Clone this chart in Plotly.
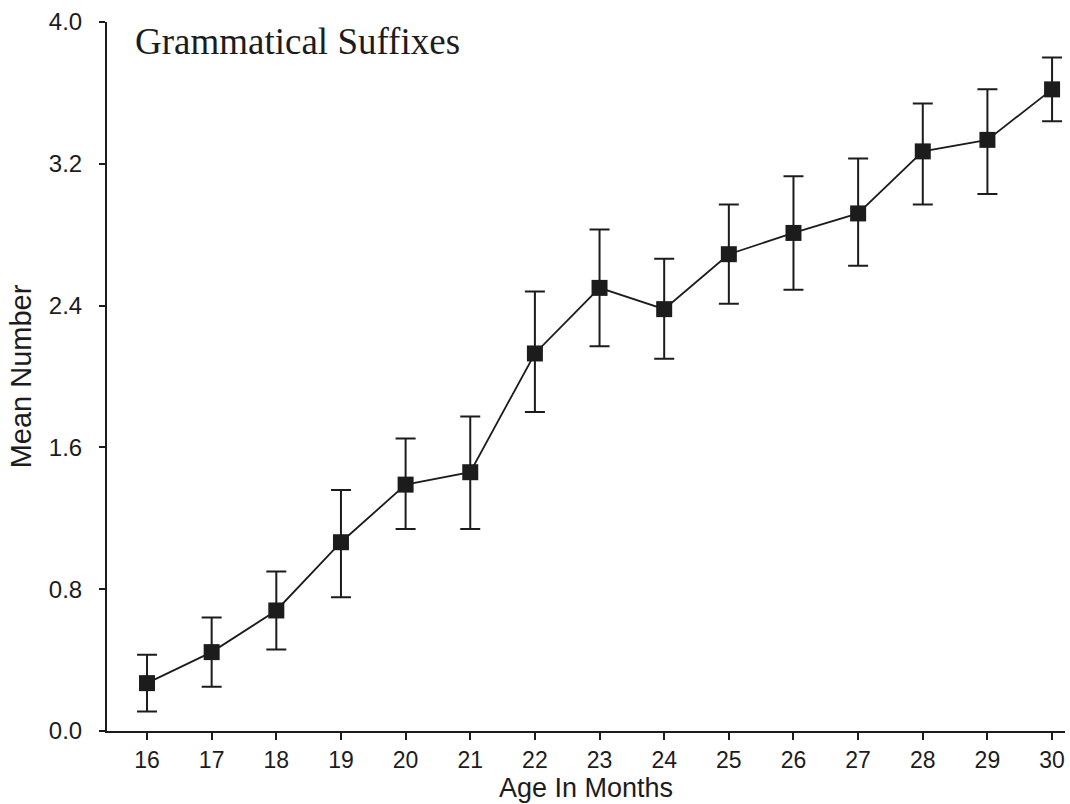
import plotly.graph_objects as go

months = [16, 17, 18, 19, 20, 21, 22, 23, 24, 25, 26, 27, 28, 29, 30]
mean_number = [0.27, 0.445, 0.68, 1.065, 1.39, 1.46, 2.13, 2.50, 2.38, 2.69, 2.81, 2.92, 3.27, 3.335, 3.62]
err_upper = [0.43, 0.64, 0.90, 1.36, 1.65, 1.775, 2.48, 2.83, 2.665, 2.97, 3.13, 3.23, 3.54, 3.62, 3.80]
err_lower = [0.11, 0.25, 0.46, 0.755, 1.14, 1.14, 1.80, 2.17, 2.10, 2.41, 2.49, 2.625, 2.97, 3.03, 3.44]
y_ticks = [0.0, 0.8, 1.6, 2.4, 3.2, 4.0]
title_text = "Grammatical Suffixes"
x_title = "Age In Months"
y_title = "Mean Number"

plus = [u - m for u, m in zip(err_upper, mean_number)]
minus = [m - l for m, l in zip(mean_number, err_lower)]

ink = "#1c1c1c"
fig = go.Figure()
fig.add_trace(go.Scatter(
    x=months, y=mean_number, mode="lines+markers",
    line=dict(color=ink, width=1.8),
    marker=dict(symbol="square", size=16, color=ink),
    error_y=dict(type="data", symmetric=False, array=plus, arrayminus=minus,
                 color=ink, thickness=2, width=10),
    showlegend=False,
))

fig.update_layout(
    width=1070, height=804,
    margin=dict(l=107, r=5, t=22, b=73),
    paper_bgcolor="white", plot_bgcolor="white",
    font=dict(family="Liberation Sans, Arial, sans-serif", color=ink, size=24),
    annotations=[dict(text=title_text, x=0.027, y=1.004, xref="paper", yref="paper",
                      xanchor="left", yanchor="top", showarrow=False,
                      font=dict(family="Liberation Serif, Times New Roman, serif", size=37, color=ink))],
)
fig.update_xaxes(
    range=[15.381, 30.2], tickmode="array", tickvals=months,
    ticktext=[str(m) for m in months],
    showline=True, linecolor=ink, linewidth=2, showgrid=False, zeroline=False,
    ticks="outside", ticklen=7, tickwidth=2, tickcolor=ink,
    tickfont=dict(size=23), ticklabelstandoff=0,
    title=dict(text=x_title, font=dict(size=27), standoff=6),
)
fig.update_yaxes(
    range=[0, 4.0], tickmode="array", tickvals=y_ticks,
    ticktext=[f"{v:.1f}" for v in y_ticks],
    showline=True, linecolor=ink, linewidth=2, showgrid=False, zeroline=False,
    ticks="outside", ticklen=6, tickwidth=2, tickcolor=ink,
    tickfont=dict(size=24), ticklabelstandoff=12,
    title=dict(text=y_title, font=dict(size=29), standoff=9),
)

fig.write_html("out.html")
